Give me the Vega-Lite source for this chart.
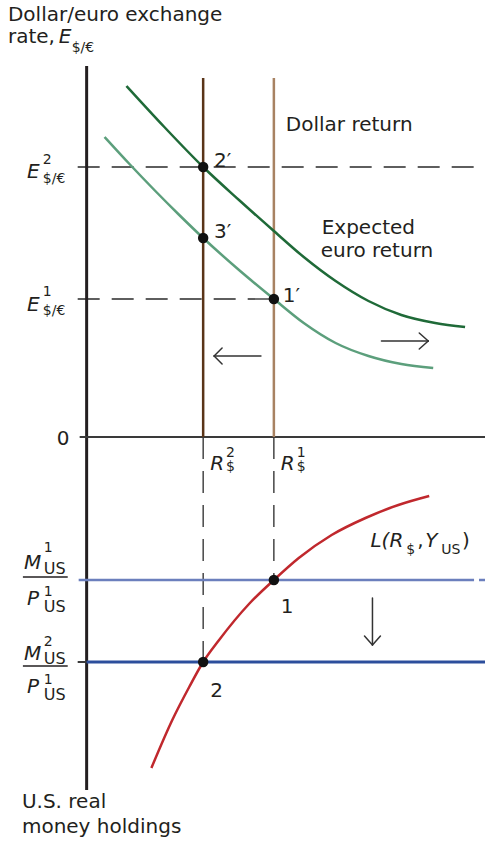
{
  "$schema": "https://vega.github.io/schema/vega-lite/v6.json",
  "width": 487,
  "height": 843,
  "autosize": {"type": "fit", "contains": "padding"},
  "padding": 0,
  "background": "white",
  "view": {"stroke": null},
  "config": {"text": {"font": "DejaVu Sans", "color": "#231f20", "align": "left", "baseline": "alphabetic"}},
  "datasets": {
    "curves": [
      {"series": "shifted", "x": 127, "y": 86}, {"series": "shifted", "x": 165, "y": 127}, {"series": "shifted", "x": 204, "y": 167}, {"series": "shifted", "x": 240, "y": 200}, {"series": "shifted", "x": 275, "y": 231}, {"series": "shifted", "x": 305, "y": 257}, {"series": "shifted", "x": 337, "y": 281}, {"series": "shifted", "x": 370, "y": 301}, {"series": "shifted", "x": 403, "y": 315}, {"series": "shifted", "x": 437, "y": 323}, {"series": "shifted", "x": 467, "y": 327},
      {"series": "original", "x": 105, "y": 137}, {"series": "original", "x": 130, "y": 164}, {"series": "original", "x": 155, "y": 190}, {"series": "original", "x": 180, "y": 215}, {"series": "original", "x": 204, "y": 238}, {"series": "original", "x": 240, "y": 270}, {"series": "original", "x": 275, "y": 299}, {"series": "original", "x": 305, "y": 323}, {"series": "original", "x": 337, "y": 343}, {"series": "original", "x": 370, "y": 356}, {"series": "original", "x": 403, "y": 364}, {"series": "original", "x": 435, "y": 368},
      {"series": "L", "x": 152, "y": 768}, {"series": "L", "x": 173, "y": 720}, {"series": "L", "x": 190, "y": 687}, {"series": "L", "x": 204, "y": 662}, {"series": "L", "x": 220, "y": 640}, {"series": "L", "x": 250, "y": 604}, {"series": "L", "x": 275, "y": 580}, {"series": "L", "x": 300, "y": 558}, {"series": "L", "x": 333, "y": 535}, {"series": "L", "x": 367, "y": 518}, {"series": "L", "x": 400, "y": 505}, {"series": "L", "x": 431, "y": 496}
    ],
    "segments": [
      {"kind": "axisV", "x": 87, "y": 66, "x2": 87, "y2": 790},
      {"kind": "axisH", "x": 80, "y": 437, "x2": 487, "y2": 437},
      {"kind": "R2", "x": 204, "y": 78, "x2": 204, "y2": 437},
      {"kind": "R1", "x": 275, "y": 78, "x2": 275, "y2": 437},
      {"kind": "dash", "x": 78, "y": 167, "x2": 487, "y2": 167},
      {"kind": "dash", "x": 78, "y": 299, "x2": 275, "y2": 299},
      {"kind": "dash", "x": 204, "y": 437, "x2": 204, "y2": 662},
      {"kind": "dash", "x": 275, "y": 437, "x2": 275, "y2": 580},
      {"kind": "M1", "x": 79, "y": 580, "x2": 476, "y2": 580},
      {"kind": "M1", "x": 481, "y": 580, "x2": 487, "y2": 580},
      {"kind": "M2", "x": 87, "y": 662, "x2": 487, "y2": 662},
      {"kind": "tick", "x": 78, "y": 662, "x2": 87, "y2": 662},
      {"kind": "arrow", "x": 215, "y": 356, "x2": 262, "y2": 356},
      {"kind": "arrow", "x": 215, "y": 356, "x2": 223, "y2": 348},
      {"kind": "arrow", "x": 215, "y": 356, "x2": 223, "y2": 364},
      {"kind": "arrow", "x": 383, "y": 341, "x2": 430, "y2": 341},
      {"kind": "arrow", "x": 430, "y": 341, "x2": 421, "y2": 333},
      {"kind": "arrow", "x": 430, "y": 341, "x2": 421, "y2": 349},
      {"kind": "arrow", "x": 374, "y": 598, "x2": 374, "y2": 645},
      {"kind": "arrow", "x": 374, "y": 645, "x2": 366, "y2": 636},
      {"kind": "arrow", "x": 374, "y": 645, "x2": 382, "y2": 636},
      {"kind": "frac", "x": 23, "y": 577, "x2": 68, "y2": 577},
      {"kind": "frac", "x": 23, "y": 666, "x2": 68, "y2": 666}
    ],
    "points": [
      {"name": "2'", "x": 204, "y": 167}, {"name": "3'", "x": 204, "y": 238}, {"name": "1'", "x": 275, "y": 299},
      {"name": "1", "x": 275, "y": 580}, {"name": "2", "x": 204, "y": 662}
    ],
    "labels": [
      {"style": "main", "text": "Dollar/euro exchange", "x": 8, "y": 21},
      {"style": "main", "text": "rate,", "x": 8, "y": 43},
      {"style": "italic", "text": "E", "x": 59, "y": 43},
      {"style": "small", "text": "$/€", "x": 72, "y": 52},
      {"style": "main", "text": "Dollar return", "x": 287, "y": 131},
      {"style": "main", "text": "Expected", "x": 323, "y": 234},
      {"style": "main", "text": "euro return", "x": 322, "y": 257},
      {"style": "main", "text": "0", "x": 57, "y": 445},
      {"style": "main", "text": "2′", "x": 215, "y": 167},
      {"style": "main", "text": "3′", "x": 215, "y": 238},
      {"style": "main", "text": "1′", "x": 284, "y": 302},
      {"style": "main", "text": "1", "x": 282, "y": 613},
      {"style": "main", "text": "2", "x": 211, "y": 697},
      {"style": "main", "text": "U.S. real", "x": 22, "y": 808},
      {"style": "main", "text": "money holdings", "x": 22, "y": 833},
      {"style": "italic", "text": "E", "x": 27, "y": 178},
      {"style": "small", "text": "2", "x": 43, "y": 164},
      {"style": "small", "text": "$/€", "x": 43, "y": 183},
      {"style": "italic", "text": "E", "x": 27, "y": 311},
      {"style": "small", "text": "1", "x": 43, "y": 296},
      {"style": "small", "text": "$/€", "x": 43, "y": 315},
      {"style": "italic", "text": "R", "x": 211, "y": 470},
      {"style": "small", "text": "2", "x": 227, "y": 457},
      {"style": "small", "text": "$", "x": 227, "y": 471},
      {"style": "italic", "text": "R", "x": 282, "y": 470},
      {"style": "small", "text": "1", "x": 298, "y": 457},
      {"style": "small", "text": "$", "x": 298, "y": 471},
      {"style": "italic", "text": "M", "x": 24, "y": 569},
      {"style": "small", "text": "1", "x": 44, "y": 552},
      {"style": "sub", "text": "US", "x": 44, "y": 574},
      {"style": "italic", "text": "P", "x": 27, "y": 605},
      {"style": "small", "text": "1", "x": 44, "y": 596},
      {"style": "sub", "text": "US", "x": 44, "y": 612},
      {"style": "italic", "text": "M", "x": 24, "y": 660},
      {"style": "small", "text": "2", "x": 44, "y": 646},
      {"style": "sub", "text": "US", "x": 44, "y": 664},
      {"style": "italic", "text": "P", "x": 27, "y": 693},
      {"style": "small", "text": "1", "x": 44, "y": 684},
      {"style": "sub", "text": "US", "x": 44, "y": 700},
      {"style": "italic", "text": "L(R", "x": 372, "y": 547},
      {"style": "small", "text": "$", "x": 408, "y": 554},
      {"style": "main", "text": ",", "x": 419, "y": 547},
      {"style": "italic", "text": "Y", "x": 427, "y": 547},
      {"style": "small", "text": "US", "x": 443, "y": 554},
      {"style": "main", "text": ")", "x": 464, "y": 547}
    ]
  },
  "encoding": {
    "x": {"field": "x", "type": "quantitative", "scale": {"domain": [0, 487], "nice": false, "zero": false}, "axis": null},
    "y": {"field": "y", "type": "quantitative", "scale": {"domain": [0, 843], "nice": false, "zero": false, "reverse": true}, "axis": null}
  },
  "layer": [
    {"data": {"name": "segments"}, "transform": [{"filter": "datum.kind == 'dash'"}], "mark": {"type": "rule", "color": "#2a2a2a", "strokeWidth": 1.3, "strokeDash": [22, 12]}, "encoding": {"x2": {"field": "x2"}, "y2": {"field": "y2"}}},
    {"data": {"name": "segments"}, "transform": [{"filter": "datum.kind == 'axisV'"}], "mark": {"type": "rule", "color": "#231f20", "strokeWidth": 3}, "encoding": {"x2": {"field": "x2"}, "y2": {"field": "y2"}}},
    {"data": {"name": "segments"}, "transform": [{"filter": "datum.kind == 'axisH' || datum.kind == 'tick'"}], "mark": {"type": "rule", "color": "#3a3a3a", "strokeWidth": 2}, "encoding": {"x2": {"field": "x2"}, "y2": {"field": "y2"}}},
    {"data": {"name": "segments"}, "transform": [{"filter": "datum.kind == 'R2'"}], "mark": {"type": "rule", "color": "#5a3418", "strokeWidth": 2.5}, "encoding": {"x2": {"field": "x2"}, "y2": {"field": "y2"}}},
    {"data": {"name": "segments"}, "transform": [{"filter": "datum.kind == 'R1'"}], "mark": {"type": "rule", "color": "#a88262", "strokeWidth": 2.5}, "encoding": {"x2": {"field": "x2"}, "y2": {"field": "y2"}}},
    {"data": {"name": "segments"}, "transform": [{"filter": "datum.kind == 'M1'"}], "mark": {"type": "rule", "color": "#6b7fbd", "strokeWidth": 2.5}, "encoding": {"x2": {"field": "x2"}, "y2": {"field": "y2"}}},
    {"data": {"name": "segments"}, "transform": [{"filter": "datum.kind == 'M2'"}], "mark": {"type": "rule", "color": "#2c4e9c", "strokeWidth": 3}, "encoding": {"x2": {"field": "x2"}, "y2": {"field": "y2"}}},
    {"data": {"name": "segments"}, "transform": [{"filter": "datum.kind == 'arrow'"}], "mark": {"type": "rule", "color": "#333333", "strokeWidth": 1.5, "strokeCap": "round"}, "encoding": {"x2": {"field": "x2"}, "y2": {"field": "y2"}}},
    {"data": {"name": "segments"}, "transform": [{"filter": "datum.kind == 'frac'"}], "mark": {"type": "rule", "color": "#231f20", "strokeWidth": 1.5}, "encoding": {"x2": {"field": "x2"}, "y2": {"field": "y2"}}},
    {"data": {"name": "curves"}, "transform": [{"filter": "datum.series == 'original'"}], "mark": {"type": "line", "color": "#5c9f7c", "strokeWidth": 2.5, "interpolate": "monotone"}, "encoding": {}},
    {"data": {"name": "curves"}, "transform": [{"filter": "datum.series == 'shifted'"}], "mark": {"type": "line", "color": "#1f6a38", "strokeWidth": 2.5, "interpolate": "monotone"}, "encoding": {}},
    {"data": {"name": "curves"}, "transform": [{"filter": "datum.series == 'L'"}], "mark": {"type": "line", "color": "#c0282d", "strokeWidth": 2.5, "interpolate": "monotone"}, "encoding": {}},
    {"data": {"name": "points"}, "mark": {"type": "circle", "color": "#111111", "opacity": 1, "size": 110}},
    {"data": {"name": "labels"}, "transform": [{"filter": "datum.style == 'main'"}], "mark": {"type": "text", "fontSize": 20}, "encoding": {"text": {"field": "text"}}},
    {"data": {"name": "labels"}, "transform": [{"filter": "datum.style == 'italic'"}], "mark": {"type": "text", "fontSize": 20, "fontStyle": "italic"}, "encoding": {"text": {"field": "text"}}},
    {"data": {"name": "labels"}, "transform": [{"filter": "datum.style == 'small'"}], "mark": {"type": "text", "fontSize": 14}, "encoding": {"text": {"field": "text"}}},
    {"data": {"name": "labels"}, "transform": [{"filter": "datum.style == 'sub'"}], "mark": {"type": "text", "fontSize": 16}, "encoding": {"text": {"field": "text"}}}
  ]
}
